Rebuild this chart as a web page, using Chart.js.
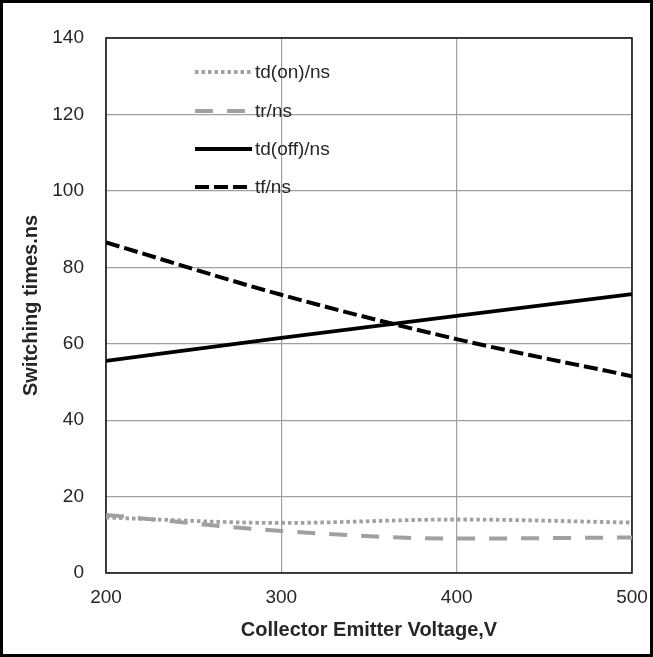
<!DOCTYPE html>
<html>
<head>
<meta charset="utf-8">
<title>Switching times</title>
<script src="https://cdn.jsdelivr.net/npm/chart.js@4/dist/chart.umd.min.js"></script>
<style>
  html, body { margin: 0; padding: 0; background: #fff; }
  #wrap { position: relative; width: 653px; height: 657px; }
</style>
</head>
<body>
<div id="wrap"><canvas id="chart" width="653" height="657"></canvas></div>
<script>
// collector-emitter voltage (V)
const voltages = [200, 300, 400, 500];
// switching times (ns)
const tdOn  = [14.5, 13.1, 14.0, 13.2];
const tr    = [15.2, 11.0, 9.0, 9.3];
const tdOff = [55.5, 61.5, 67.3, 73.0];
const tf    = [86.5, 72.8, 61.2, 51.5];
const yTicks = [0, 20, 40, 60, 80, 100, 120, 140];
const xTicks = [200, 300, 400, 500];

const FONT = "'Liberation Sans', Arial, sans-serif";
const GRAY = '#a0a0a0';

function pts(vals) {
    return voltages.map((v, i) => ({ x: v, y: vals[i] }));
}

// legend sits inside the plot, top left
const boxLegend = {
    id: 'boxLegend',
    afterDatasetsDraw(chart) {
        const ctx = chart.ctx;
        const x0 = 195, x1 = 252, rowY = [72, 111, 149, 187];
        ctx.save();
        chart.data.datasets.forEach((ds, i) => {
            const y = rowY[i];
            ctx.beginPath();
            ctx.strokeStyle = ds.borderColor;
            ctx.lineWidth = ds.borderWidth;
            ctx.lineCap = 'butt';
            ctx.setLineDash(ds.borderDash || []);
            ctx.moveTo(x0, y);
            ctx.lineTo(x1, y);
            ctx.stroke();
            ctx.setLineDash([]);
            ctx.fillStyle = '#262626';
            ctx.font = '19px ' + FONT;
            ctx.textBaseline = 'middle';
            ctx.textAlign = 'left';
            ctx.fillText(ds.label, x1 + 3, y + 1);
        });
        ctx.restore();
    }
};

// black frame round the plot and round the whole picture
const frames = {
    id: 'frames',
    beforeDatasetsDraw(chart) {
        const a = chart.chartArea;
        const ctx = chart.ctx;
        ctx.save();
        ctx.strokeStyle = '#1a1a1a';
        ctx.lineWidth = 1.6;
        ctx.strokeRect(a.left, a.top, a.right - a.left, a.bottom - a.top);
        ctx.restore();
    },
    afterDraw(chart) {
        const ctx = chart.ctx;
        ctx.save();
        ctx.strokeStyle = '#000';
        ctx.lineWidth = 3;
        ctx.strokeRect(1.5, 1.5, chart.width - 3, chart.height - 3);
        ctx.restore();
    }
};

new Chart(document.getElementById('chart'), {
    type: 'line',
    data: {
        datasets: [
            { label: 'td(on)/ns', data: pts(tdOn), borderColor: GRAY, borderWidth: 3.8, borderDash: [3.5, 3] },
            { label: 'tr/ns', data: pts(tr), borderColor: GRAY, borderWidth: 4, borderDash: [18, 14] },
            { label: 'td(off)/ns', data: pts(tdOff), borderColor: '#000', borderWidth: 3.8 },
            { label: 'tf/ns', data: pts(tf), borderColor: '#000', borderWidth: 4, borderDash: [14, 5] }
        ]
    },
    options: {
        responsive: false,
        animation: false,
        devicePixelRatio: 1,
        layout: { padding: { top: 38, right: 21, left: 0, bottom: 0 } },
        elements: {
            point: { radius: 0 },
            line: { cubicInterpolationMode: 'monotone', fill: false, borderCapStyle: 'butt' }
        },
        plugins: {
            legend: { display: false },
            tooltip: { enabled: false }
        },
        scales: {
            x: {
                type: 'linear',
                min: 200,
                max: 500,
                afterFit(scale) {
                    scale.height = 84;
                    scale.paddingLeft = 0;
                    scale.paddingRight = 0;
                },
                afterBuildTicks(scale) { scale.ticks = xTicks.map(v => ({ value: v })); },
                grid: { color: GRAY, lineWidth: 1.2, drawTicks: false },
                border: { display: false },
                ticks: { padding: 13, color: '#262626', font: { family: FONT, size: 19 }, maxRotation: 0 },
                title: {
                    display: true,
                    text: 'Collector Emitter Voltage,V',
                    color: '#262626',
                    font: { family: FONT, size: 20, weight: 'bold' },
                    padding: { top: 0, bottom: 15 }
                }
            },
            y: {
                min: 0,
                max: 140,
                afterFit(scale) { scale.width = 106; },
                afterBuildTicks(scale) { scale.ticks = yTicks.map(v => ({ value: v })); },
                grid: { color: GRAY, lineWidth: 1.2, drawTicks: false },
                border: { display: false },
                ticks: { padding: 22, color: '#262626', font: { family: FONT, size: 19 } },
                title: {
                    display: true,
                    text: 'Switching times.ns',
                    color: '#262626',
                    font: { family: FONT, size: 20, weight: 'bold' },
                    padding: { top: 19, bottom: 0 }
                }
            }
        }
    },
    plugins: [frames, boxLegend]
});
</script>
</body>
</html>
